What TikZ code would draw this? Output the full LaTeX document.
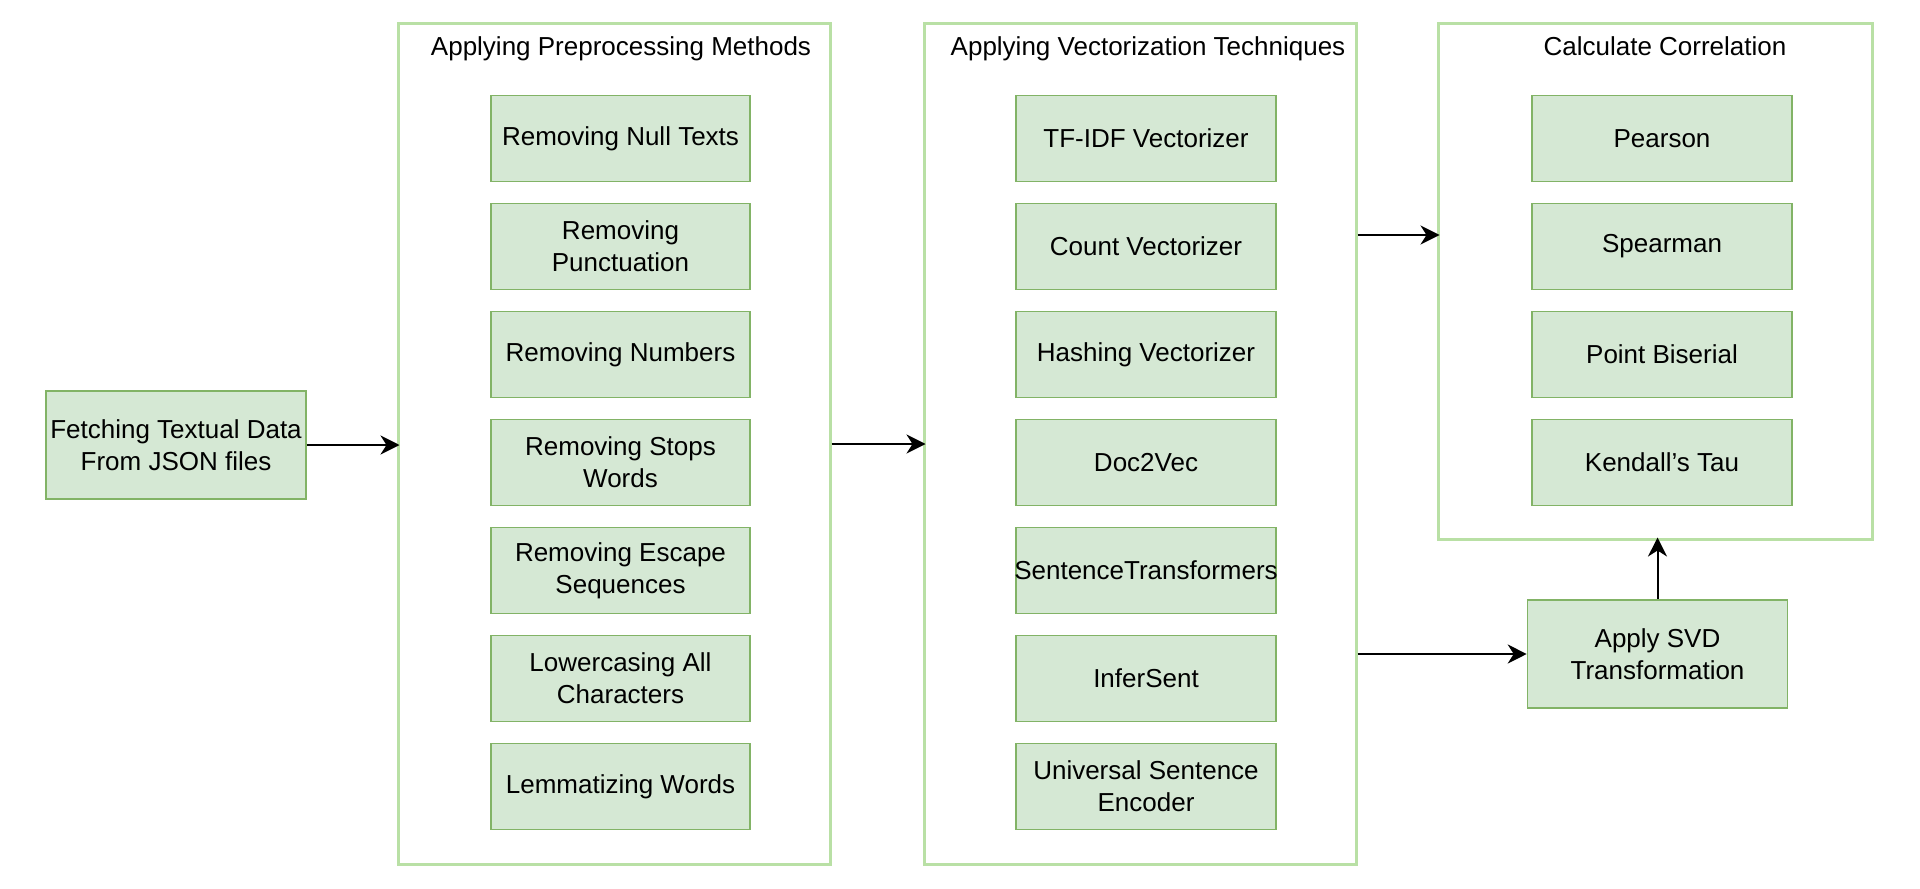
\documentclass[tikz,border=0pt]{standalone}
\usepackage{fontspec}
\setmainfont{Liberation Sans}
\usetikzlibrary{arrows.meta}
\definecolor{boxfill}{HTML}{D5E8D4}
\definecolor{boxline}{HTML}{82B366}
\definecolor{frameline}{HTML}{B9E0A5}
\tikzset{
  txt/.style={font=\fontsize{13}{16}\selectfont, align=center},
  stepbox/.style={txt, draw=boxline, fill=boxfill, line width=0.8pt, inner sep=0pt,
     minimum width=129.75pt, minimum height=43pt},
  bigbox/.style={txt, draw=boxline, fill=boxfill, line width=0.8pt, inner sep=0pt,
     minimum width=130pt, minimum height=54pt},
  frame/.style={draw=frameline, fill=white, line width=1.5pt, inner sep=0pt, minimum width=216pt},
  ttl/.style={txt, inner sep=0pt, anchor=base},
  arr/.style={draw=black, line width=1pt, -{Stealth[length=9.5pt, width=9.5pt, inset=3pt]}},
  intoframe/.style={shorten >=-1.5pt}
}
\begin{document}
\begin{tikzpicture}[x=0.5pt, y=-0.5pt]
\useasboundingbox (0,0) rectangle (1920,888);
% containers
\node[frame, minimum height=420pt] (c1) at (614,444) {};
\node[frame, minimum height=420pt] (c2) at (1140,444) {};
\node[frame, minimum width=217pt, minimum height=257.5pt] (c3) at (1655,281.5) {};
% titles
\node[ttl] (t1) at (621,56) {Applying Preprocessing Methods};
\node[ttl] (t2) at (1148,56) {Applying Vectorization Techniques};
\node[ttl] (t3) at (1665,56) {Calculate Correlation};
% source
\node[bigbox] (fetch) at (176,445) {Fetching Textual Data\\From JSON files};
% column 1
\node[stepbox] (p1) at (620.5,138.5) {Removing Null Texts};
\node[stepbox] (p2) at (620.5,246.5) {Removing\\Punctuation};
\node[stepbox] (p3) at (620.5,354.5) {Removing Numbers};
\node[stepbox] (p4) at (620.5,462.5) {Removing Stops\\Words};
\node[stepbox] (p5) at (620.5,570.5) {Removing Escape\\Sequences};
\node[stepbox] (p6) at (620.5,678.5) {Lowercasing All\\Characters};
\node[stepbox] (p7) at (620.5,786.5) {Lemmatizing Words};
% column 2
\node[stepbox] (v1) at (1146,138.5) {TF-IDF Vectorizer};
\node[stepbox] (v2) at (1146,246.5) {Count Vectorizer};
\node[stepbox] (v3) at (1146,354.5) {Hashing Vectorizer};
\node[stepbox] (v4) at (1146,462.5) {Doc2Vec};
\node[stepbox] (v5) at (1146,570.5) {\makebox[0pt]{SentenceTransformers}};
\node[stepbox] (v6) at (1146,678.5) {InferSent};
\node[stepbox] (v7) at (1146,786.5) {Universal Sentence\\Encoder};
% column 3
\node[stepbox] (r1) at (1662,138.5) {Pearson};
\node[stepbox] (r2) at (1662,246.5) {Spearman};
\node[stepbox] (r3) at (1662,354.5) {Point Biserial};
\node[stepbox] (r4) at (1662,462.5) {Kendall’s Tau};
% svd
\node[bigbox] (svd) at (1657.5,654) {Apply SVD\\Transformation};
% connectors
\coordinate (hc) at (0,235);
\draw[arr, intoframe] (fetch.east) -- (fetch.east -| c1.west);
\draw[arr, intoframe] (c1.east) -- (c2.west);
\draw[arr, intoframe] (c2.east |- hc) -- (c3.west |- hc);
\draw[arr] (c2.east |- svd.west) -- (svd.west);
\draw[arr, intoframe] (svd.north) -- (svd.north |- c3.south);
\end{tikzpicture}
\end{document}
